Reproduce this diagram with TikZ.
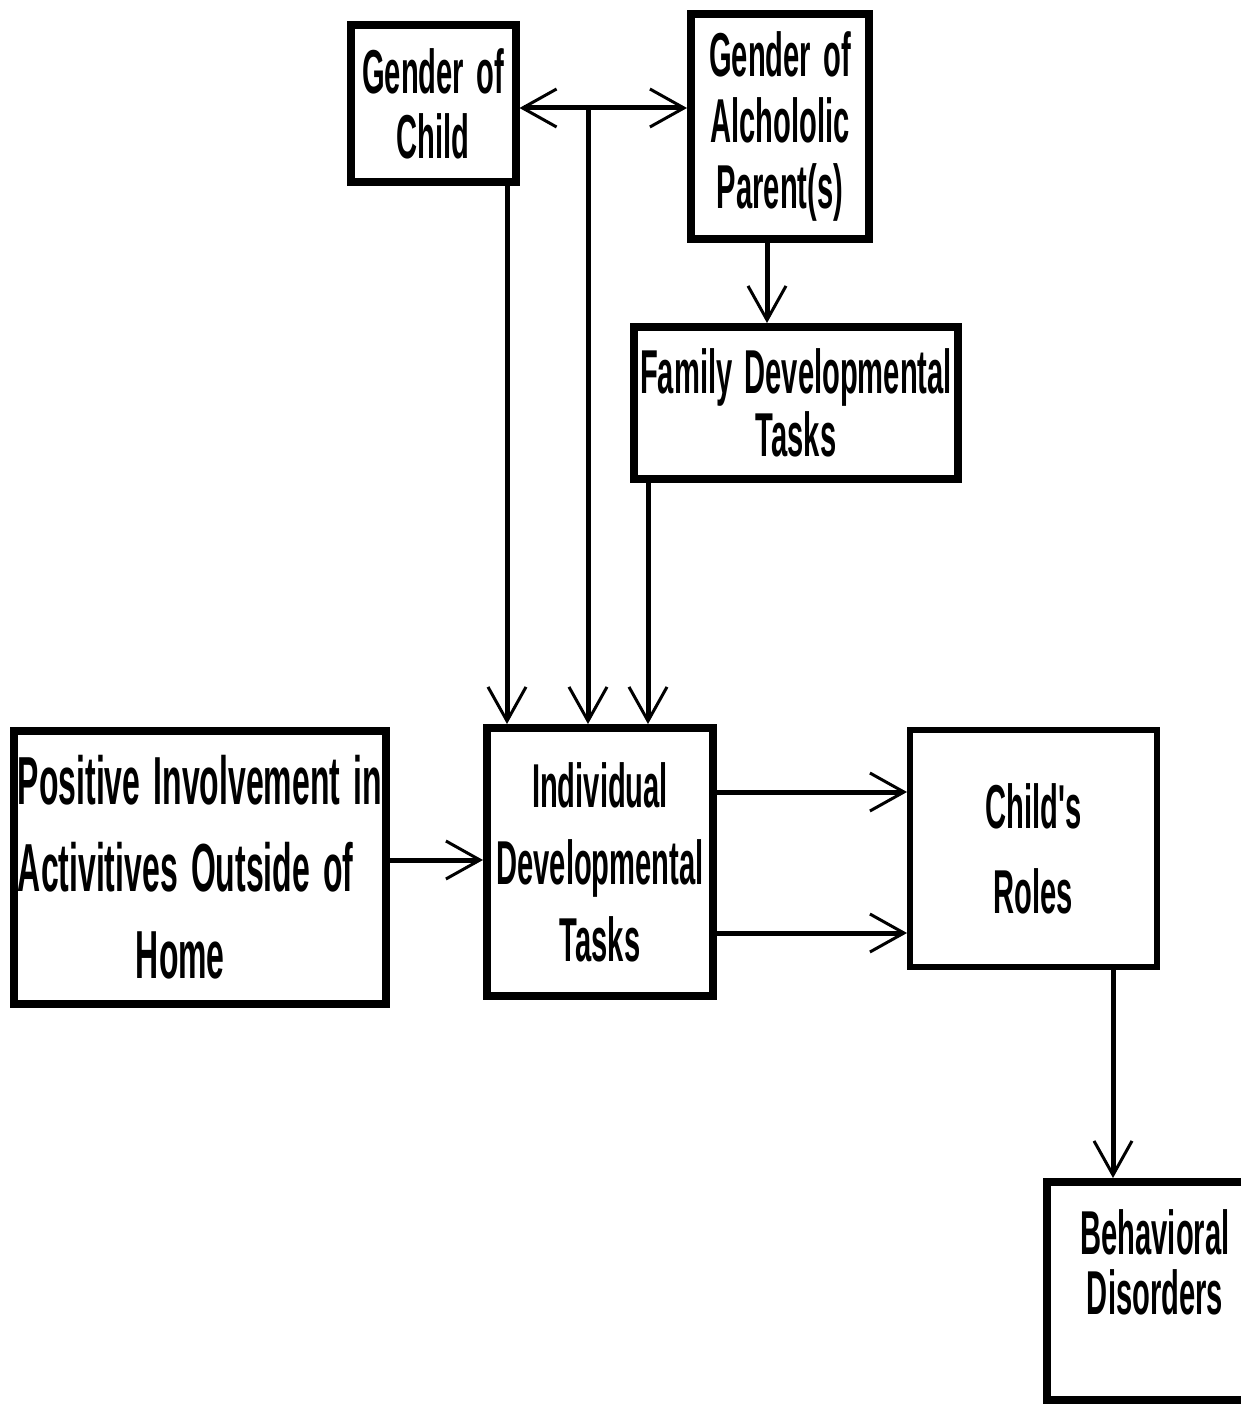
\documentclass[tikz,border=0pt]{standalone}
\usepackage{fontspec}
\newfontfamily\condfam[FakeStretch=0.47,WordSpace=1.5]{Liberation Sans}
\newcommand\diafont[2]{\condfam\bfseries\fontsize{#1}{#2}\selectfont}
\usetikzlibrary{arrows.meta}
\begin{document}
\begin{tikzpicture}[x=1pt,y=-1pt,
  box/.style={draw, line width=8pt, align=center, inner sep=0pt},
  arr/.style={line width=5pt, -{Straight Barb[length=34pt,width=38pt,line width=3pt]}},
  dblarr/.style={line width=5pt, {Straight Barb[length=34pt,width=38pt,line width=3pt]}-{Straight Barb[length=34pt,width=38pt,line width=3pt]}}]
\useasboundingbox (0,0) rectangle (1241,1407);
\fill[white] (0,0) rectangle (1241,1407);

\node[box, minimum width=165pt, minimum height=157pt, font=\diafont{62}{65}] (b1) at (433,104) {Gender of\\Child};
\node[box, minimum width=178pt, minimum height=225pt, font=\diafont{62}{66}] (b2) at (780,126.5) {Gender of\\Alchololic\\Parent(s)};
\node[box, minimum width=324pt, minimum height=152pt, font=\diafont{62}{63}] (b3) at (796,403) {Family Developmental\\Tasks};
\node[box, align=left, minimum width=372pt, minimum height=273pt, font=\diafont{68}{87}] (b4) at (200,867.5) {Positive Involvement in\\Activitives Outside of\\\hspace*{118pt}Home};
\node[box, minimum width=226pt, minimum height=268pt, font=\diafont{62}{77}] (b5) at (600,862) {Individual\\Developmental\\Tasks};
\node[box, line width=6pt, minimum width=247pt, minimum height=237pt, font=\diafont{62}{85}] (b6) at (1033.5,848.5) {Child's\\Roles};
\node[box, minimum width=204pt, minimum height=218pt] (b7) at (1149,1291) {};
\node[align=center, inner sep=0pt, font=\diafont{62}{60}] (t7) at (1155,1262) {Behavioral\\Disorders};

\coordinate (y0) at (0,108);
\coordinate (y1) at (0,792);
\coordinate (y2) at (0,933);
\coordinate (y3) at (0,860);
\coordinate (x1) at (507,0);
\coordinate (x3) at (648,0);
\coordinate (x4) at (767,0);
\coordinate (x5) at (1113,0);
\coordinate (j) at (588,108);

\draw[dblarr] (b1.east |- y0) -- (b2.west |- y0);
\draw[arr] (j) -- (j |- b5.north);
\draw[arr] (b1.south -| x1) -- (b5.north -| x1);
\draw[arr] (b2.south -| x4) -- (b3.north -| x4);
\draw[arr] (b3.south -| x3) -- (b5.north -| x3);
\draw[arr] (b4.east |- y3) -- (b5.west |- y3);
\draw[arr] (b5.east |- y1) -- (b6.west |- y1);
\draw[arr] (b5.east |- y2) -- (b6.west |- y2);
\draw[arr] (b6.south -| x5) -- (b7.north -| x5);
\end{tikzpicture}
\end{document}
